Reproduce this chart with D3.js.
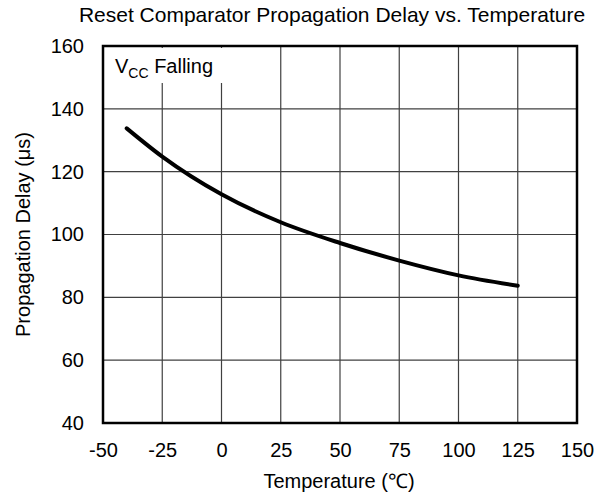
<!DOCTYPE html>
<html><head><meta charset="utf-8">
<script src="https://cdn.jsdelivr.net/npm/d3@7"></script>
<style>body{margin:0;background:#fff}svg{display:block;font-family:"Liberation Sans",Arial,sans-serif}</style>
</head><body>
<svg id="c" width="606" height="500"></svg>
<script>
const temps = [-40, -25, 0, 25, 50, 75, 100, 125];
const delays = [133.8, 124.8, 112.8, 103.9, 97.3, 91.7, 87.0, 83.7];
const xTicks = [-50, -25, 0, 25, 50, 75, 100, 125, 150];
const yTicks = [40, 60, 80, 100, 120, 140, 160];

const svg = d3.select("#c");
const L = 103, R = 577, T = 46, B = 423;
const x = d3.scaleLinear().domain([-50, 150]).range([L, R]);
const y = d3.scaleLinear().domain([40, 160]).range([B, T]);
const FF = "Liberation Sans, Arial, sans-serif";

// grid
svg.append("g").selectAll("line").data(xTicks).join("line")
  .attr("x1", d => x(d)).attr("x2", d => x(d)).attr("y1", T).attr("y2", B)
  .attr("stroke", "#404040").attr("stroke-width", 1.2);
svg.append("g").selectAll("line").data(yTicks).join("line")
  .attr("x1", L).attr("x2", R).attr("y1", d => y(d)).attr("y2", d => y(d))
  .attr("stroke", "#404040").attr("stroke-width", 1.2);

// legend background
svg.append("rect").attr("x", L + 2).attr("y", T + 2).attr("width", 125).attr("height", 35).attr("fill", "#fff");

// frame
svg.append("rect").attr("x", L).attr("y", T).attr("width", R - L).attr("height", B - T)
  .attr("fill", "none").attr("stroke", "#000").attr("stroke-width", 2.5);

// axes labels
const xa = svg.append("g").attr("transform", `translate(0,${B})`)
  .call(d3.axisBottom(x).tickValues(xTicks).tickSize(0).tickPadding(20).tickFormat(d => String(d)));
xa.select(".domain").remove();
xa.selectAll("text").attr("font-size", 20).attr("fill", "#000").attr("font-family", FF);
const ya = svg.append("g").attr("transform", `translate(${L},0)`)
  .call(d3.axisLeft(y).tickValues(yTicks).tickSize(0).tickPadding(19).tickFormat(d => String(d)));
ya.select(".domain").remove();
ya.selectAll("text").attr("font-size", 20).attr("fill", "#000").attr("font-family", FF);

// curve
svg.append("path").datum(temps.map((t, i) => [t, delays[i]]))
  .attr("d", d3.line().x(d => x(d[0])).y(d => y(d[1])).curve(d3.curveMonotoneX))
  .attr("fill", "none").attr("stroke", "#000").attr("stroke-width", 4).attr("stroke-linecap", "round");

// legend
const lg = svg.append("text").attr("x", 115).attr("y", 73).attr("font-size", 20).attr("fill", "#000");
lg.append("tspan").text("V");
lg.append("tspan").attr("font-size", 14).attr("dy", 5).text("CC");
lg.append("tspan").attr("dy", -5).text(" Falling");

// title
svg.append("text").attr("x", 332).attr("y", 22).attr("text-anchor", "middle").attr("font-size", 21)
  .text("Reset Comparator Propagation Delay vs. Temperature");
svg.append("text").attr("x", 339).attr("y", 488).attr("text-anchor", "middle").attr("font-size", 20)
  .text("Temperature (℃)");
svg.append("text").attr("transform", `translate(30,${(T + B) / 2}) rotate(-90)`).attr("text-anchor", "middle").attr("font-size", 20)
  .text("Propagation Delay (μs)");
</script>
</body></html>
